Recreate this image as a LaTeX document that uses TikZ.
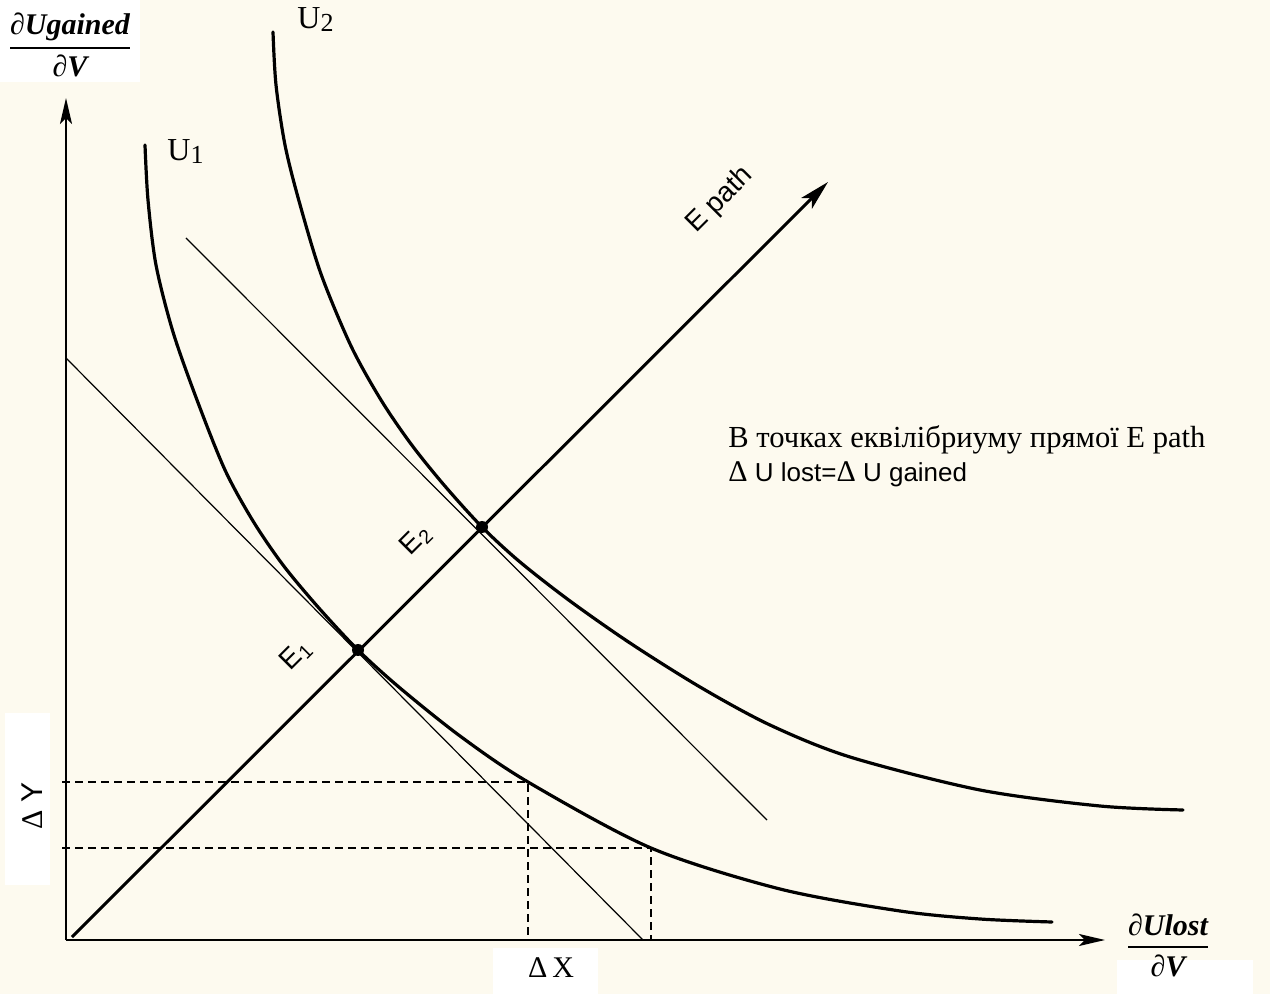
\documentclass[tikz,border=0pt]{standalone}
\usepackage{fontspec}
\setmainfont{Liberation Serif}
\newfontfamily\arialfont{Liberation Sans}
\usetikzlibrary{arrows.meta}
\definecolor{bgcream}{RGB}{253,250,239}
\newcommand\pdfrac[2]{$\displaystyle{\hbox{#1}\above 1pt\hbox{#2}}$}
\newcommand\usub[1]{\raisebox{-1.5pt}{\fontsize{13}{15}\selectfont #1}}
\newcommand\bigdelta{{\rmfamily\fontsize{15}{16}\selectfont Δ}}
\tikzset{
  axisline/.style={line width=1pt, -{Stealth[length=13pt,width=6pt,inset=3pt]}},
  epathline/.style={line width=1.5pt, -{Stealth[length=15pt,width=7.5pt,inset=3.5pt]}},
  ucurve/.style={line width=1.6pt, line join=round, line cap=round},
  tangentline/.style={line width=0.6pt},
  guide/.style={line width=0.7pt, dash pattern=on 4pt off 2.5pt},
  epoint/.style={circle, fill=black, inner sep=0pt, minimum size=6pt},
  lbl/.style={inner sep=0pt},
  fracfont/.style={font=\fontsize{15}{18}\selectfont\bfseries\itshape},
  ulbl/.style={inner sep=0pt, font=\fontsize{16}{19}\selectfont},
  elbl/.style={inner sep=0pt, font=\arialfont\fontsize{14}{17}\selectfont, rotate=45},
}
\begin{document}
\begin{tikzpicture}[x=0.5pt,y=-0.5pt]
\useasboundingbox (0,0) rectangle (1270,994);
\fill[bgcream] (0,0) rectangle (1270,994);
% white label patches
\fill[white] (0,0) rectangle (140,82);
\fill[white] (5,713) rectangle (50,885);
\fill[white] (493,948) rectangle (598,994);
\fill[white] (1117,960) rectangle (1253,994);

% key points
\coordinate (O) at (66,940);
\coordinate (ytip) at (66,98);
\coordinate (xtip) at (1105,940);
\coordinate (estart) at (72,937);
\coordinate (etip) at (828,182);
\coordinate (L1a) at (66,358);
\coordinate (L1b) at (643,940);
\coordinate (L2a) at (186,238);
\coordinate (L2b) at (767,820);
\coordinate (P1) at (528,782);
\coordinate (P2) at (651,848);
\coordinate (Y1) at (62,782);
\coordinate (Y2) at (62,848);
\coordinate (X1) at (528,940);
\coordinate (X2) at (651,940);

% guides
\draw[guide] (Y1) -- (P1) -- (X1);
\draw[guide] (Y2) -- (P2) -- (X2);

% tangent lines
\draw[tangentline] (L1a) -- (L1b);
\draw[tangentline] (L2a) -- (L2b);

% indifference curves
\draw[ucurve] plot[smooth, tension=0.5] coordinates {
  (145,145) (148,200) (156,265) (173,332) (197,400) (225,470) (253,521)
  (283,565) (318,607) (358,650) (400,688) (460,736) (528,782) (651,848)
  (780,889) (900,911) (980,919) (1052,922)};
\draw[ucurve] plot[smooth, tension=0.5] coordinates {
  (273,32) (276,85) (285,145) (299,201) (321,274) (351,346) (381,400)
  (411,444) (444,485) (482,527) (520,562) (570,601) (630,643) (700,687)
  (770,725) (850,757) (980,790) (1100,806) (1183,810)};

% axes
\draw[axisline] (O) -- (ytip);
\draw[axisline] (O) -- (xtip);
\draw[epathline] (estart) -- (etip);

% equilibrium points
\node[epoint] (E1) at (358,650) {};
\node[epoint] (E2) at (482,527) {};

% labels
\node[lbl, fracfont] (fy) at (70,45) {\pdfrac{∂Ugained}{∂V}};
\node[lbl, fracfont] (fx) at (1168,945) {\pdfrac{∂Ulost}{∂V}};
\node[ulbl, anchor=west] (u1) at (167,152) {U\usub{1}};
\node[ulbl, anchor=west] (u2) at (297,20) {U\usub{2}};
\node[elbl] (ep) at (720,200) {E path};
\node[elbl] (e1l) at (296,655) {E\textsubscript{1}};
\node[elbl] (e2l) at (416,540) {E\textsubscript{2}};
\node[lbl, anchor=base west, font=\fontsize{15.3}{18}\selectfont] (t1) at (728,448) {В точках еквілібриуму прямої E path};
\node[lbl, anchor=base west, font=\arialfont\fontsize{13}{16}\selectfont] (t2) at (728,482) {\bigdelta{} U lost=\bigdelta{} U gained};
\node[lbl, font=\fontsize{15}{18}\selectfont] (dx) at (551,968) {Δ\,X};
\node[lbl, rotate=90, font=\fontsize{15}{18}\selectfont] (dy) at (32,806) {Δ {\arialfont Y}};
\end{tikzpicture}
\end{document}
